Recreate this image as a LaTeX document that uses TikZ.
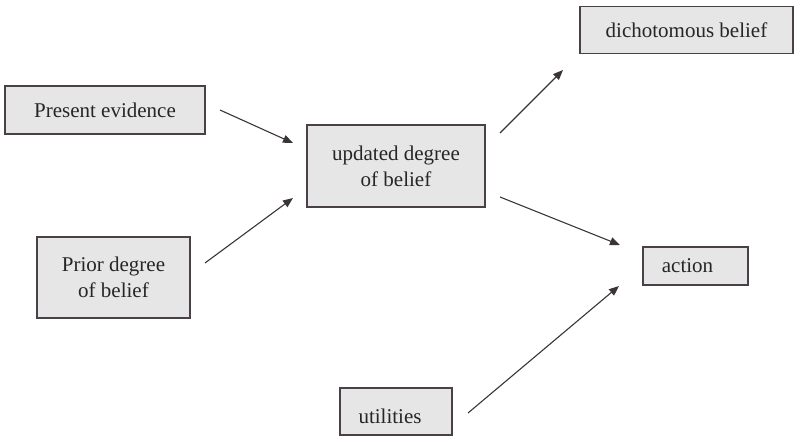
\documentclass[tikz,border=0pt]{standalone}
\usepackage{fontspec}
\setmainfont{Liberation Serif}
\usetikzlibrary{arrows.meta}
\definecolor{boxfill}{HTML}{E6E6E6}
\definecolor{boxline}{HTML}{4A4048}
\definecolor{arrowc}{HTML}{3A3438}
\tikzset{
  box/.style={draw=boxline, fill=boxfill, line width=1.2pt, inner sep=0pt, align=center,
    font=\fontsize{21}{26}\selectfont, text=black!85},
  conn/.style={draw=arrowc, line width=1.1pt, -{Triangle[length=10pt,width=8pt]}}
}
\begin{document}
\begin{tikzpicture}[x=1pt,y=-1pt]
\useasboundingbox (0,0) rectangle (799,439);
\node[box, minimum width=200, minimum height=48] (pe) at (105,110) {Present evidence};
\node[box, minimum width=178, minimum height=82] (ud) at (396,166) {updated degree\\of belief};
\node[box, minimum width=213, minimum height=47] (db) at (686.5,30) {dichotomous belief};
\node[box, minimum width=153, minimum height=81] (pd) at (113.5,277.5) {Prior degree\\of belief};
\node[box, minimum width=105, minimum height=38] (ac) at (695.5,266) {action\hspace{16pt}};
\node[box, minimum width=112, minimum height=47] (ut) at (396,411.5) {\raisebox{-5pt}[\height][0pt]{utilities}\hspace{12pt}};
\coordinate (a1s) at (220,110);
\coordinate (a1e) at (293,143);
\coordinate (a2s) at (205,263);
\coordinate (a2e) at (293,198);
\coordinate (a3s) at (500,133);
\coordinate (a3e) at (563,70);
\coordinate (a4s) at (500,197);
\coordinate (a4e) at (620,245);
\coordinate (a5s) at (468,413);
\coordinate (a5e) at (619,286);
\draw[conn] (a1s) -- (a1e);
\draw[conn] (a2s) -- (a2e);
\draw[conn] (a3s) -- (a3e);
\draw[conn] (a4s) -- (a4e);
\draw[conn] (a5s) -- (a5e);
\end{tikzpicture}
\end{document}
